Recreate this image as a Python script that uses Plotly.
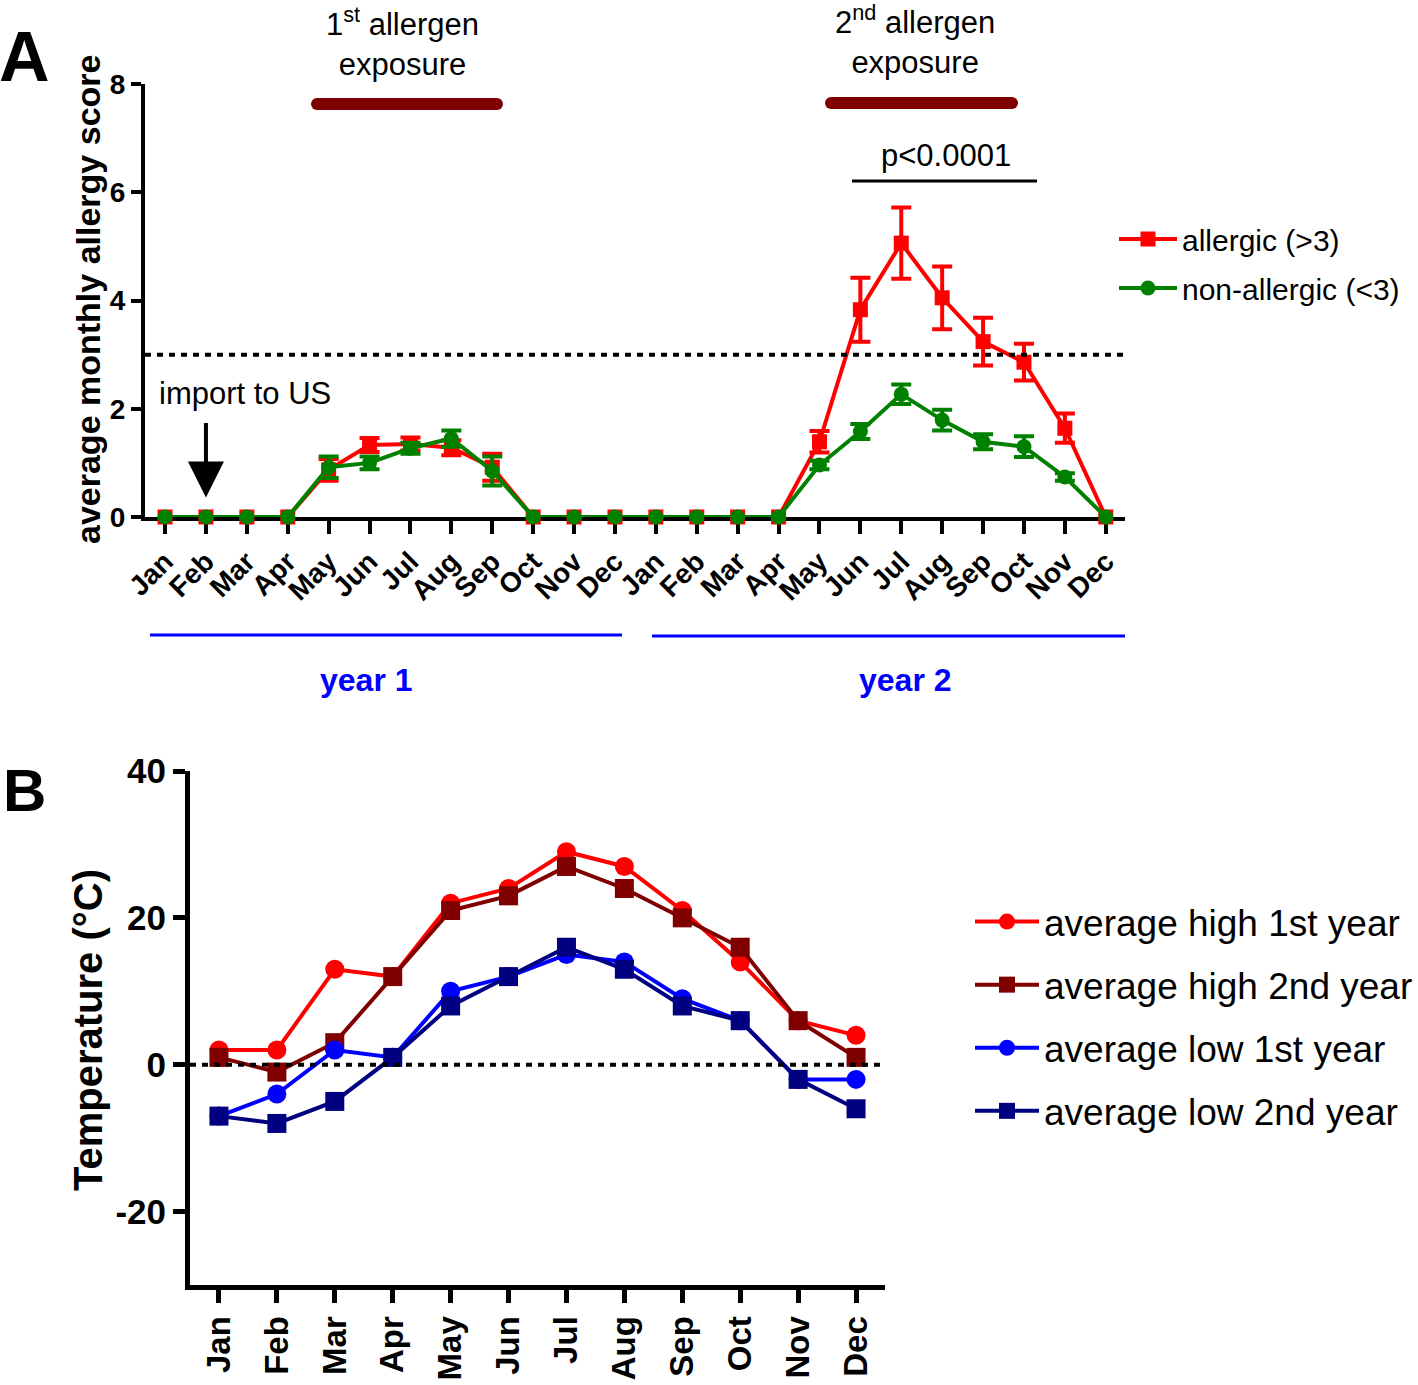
import numpy as np
import plotly.graph_objects as go

W, H = 1418, 1385
FONT = "Liberation Sans, Arial, sans-serif"

# ---------------- data ----------------
months = ["Jan", "Feb", "Mar", "Apr", "May", "Jun", "Jul", "Aug", "Sep", "Oct", "Nov", "Dec"]
months_2y = months + months

allergic = [0, 0, 0, 0, 0.87, 1.33, 1.35, 1.28, 0.92, 0, 0, 0,
            0, 0, 0, 0, 1.39, 3.83, 5.06, 4.05, 3.24, 2.86, 1.64, 0]
allergic_err = [None, None, None, None, 0.2, 0.13, 0.12, 0.14, 0.25, None, None, None,
                None, None, None, None, 0.2, 0.59, 0.66, 0.58, 0.44, 0.34, 0.27, None]
non_allergic = [0, 0, 0, 0, 0.92, 1.0, 1.27, 1.45, 0.85, 0, 0, 0,
                0, 0, 0, 0, 0.96, 1.58, 2.27, 1.79, 1.39, 1.30, 0.74, 0]
non_allergic_err = [None, None, None, None, 0.2, 0.12, 0.1, 0.15, 0.27, None, None, None,
                    None, None, None, None, 0.08, 0.14, 0.18, 0.19, 0.14, 0.19, 0.07, None]

score_ticks = [0, 2, 4, 6, 8]

high_1st = [2, 2, 13, 12, 22, 24, 29, 27, 21, 14, 6, 4]
high_2nd = [1, -1, 3, 12, 21, 23, 27, 24, 20, 16, 6, 1]
low_1st = [-7, -4, 2, 1, 10, 12, 15, 14, 9, 6, -2, -2]
low_2nd = [-7, -8, -5, 1, 8, 12, 16, 13, 8, 6, -2, -6]

temp_ticks = [-20, 0, 20, 40]
temp_ticktext = ["-20", "0", "20", "40"]

threshold = 3

# ---------------- helpers ----------------
def px(x):
    return x / W


def py(y):
    return 1 - y / H


xa = list(range(len(months_2y)))
xb = list(range(len(months)))

fig = go.Figure()

# Panel A
fig.add_trace(go.Scatter(
    x=xa, y=allergic, name="allergic (>3)", mode="lines+markers",
    line=dict(color="#FF0000", width=4),
    marker=dict(symbol="square", size=15, color="#FF0000"),
    error_y=dict(type="data", array=np.array(allergic_err, dtype=float), color="#FF0000",
                 thickness=4, width=10),
    cliponaxis=False, xaxis="x", yaxis="y", legend="legend", legendgroup="a1"))
fig.add_trace(go.Scatter(
    x=xa, y=non_allergic, name="non-allergic (<3)", mode="lines+markers",
    line=dict(color="#008000", width=4),
    marker=dict(symbol="circle", size=15, color="#008000"),
    error_y=dict(type="data", array=np.array(non_allergic_err, dtype=float), color="#008000",
                 thickness=4, width=10),
    cliponaxis=False, xaxis="x", yaxis="y", legend="legend", legendgroup="a2"))

# Panel B
for name, vals, col, sym, grp in [
    ("average high 1st year", high_1st, "#FF0000", "circle", "b1"),
    ("average high 2nd year", high_2nd, "#800000", "square", "b2"),
    ("average low 1st year", low_1st, "#0000FF", "circle", "b3"),
    ("average low 2nd year", low_2nd, "#000080", "square", "b4"),
]:
    fig.add_trace(go.Scatter(
        x=xb, y=vals, name=name, mode="lines+markers",
        line=dict(color=col, width=4),
        marker=dict(symbol=sym, size=19, color=col),
        cliponaxis=False, xaxis="x2", yaxis="y2", legend="legend2", legendgroup=grp))

axis_common = dict(showgrid=False, zeroline=False, showline=True, linecolor="black",
                   ticks="outside", tickcolor="black", layer="below traces")

DOTS = "6px,6px"
BAR = "#800000"


def rounded_bar(x0, x1, y0, y1):
    r = (y1 - y0) / 2
    return [
        dict(type="rect", xref="paper", yref="paper", x0=px(x0 + r), x1=px(x1 - r),
             y0=py(y1), y1=py(y0), fillcolor=BAR, line=dict(width=0)),
        dict(type="circle", xref="paper", yref="paper", x0=px(x0), x1=px(x0 + 2 * r),
             y0=py(y1), y1=py(y0), fillcolor=BAR, line=dict(width=0)),
        dict(type="circle", xref="paper", yref="paper", x0=px(x1 - 2 * r), x1=px(x1),
             y0=py(y1), y1=py(y0), fillcolor=BAR, line=dict(width=0)),
    ]


shapes = [
    # threshold dotted line (A)
    dict(type="line", xref="x domain", yref="y", x0=0, x1=1, y0=threshold, y1=threshold,
         line=dict(color="black", width=4, dash=DOTS)),
    # zero dotted line (B)
    dict(type="line", xref="x2 domain", yref="y2", x0=0, x1=1, y0=0, y1=0,
         line=dict(color="black", width=4, dash=DOTS)),
    # p-value line
    dict(type="line", xref="paper", yref="paper", x0=px(852), x1=px(1037), y0=py(181), y1=py(181),
         line=dict(color="black", width=3)),
    # year lines
    dict(type="line", xref="paper", yref="paper", x0=px(150), x1=px(622), y0=py(635), y1=py(635),
         line=dict(color="#0000FF", width=3)),
    dict(type="line", xref="paper", yref="paper", x0=px(652), x1=px(1125), y0=py(636), y1=py(636),
         line=dict(color="#0000FF", width=3)),
]
shapes += rounded_bar(311, 503, 98, 110)
shapes += rounded_bar(825, 1018, 97, 109)


def ann(text, x, y, size, bold=False, color="black", xanchor="center", angle=0):
    return dict(text=text, x=px(x), y=py(y), xref="paper", yref="paper", showarrow=False,
                xanchor=xanchor, yanchor="middle", textangle=angle,
                font=dict(family=FONT, size=size, color=color, weight="bold" if bold else "normal"))


annotations = [
    ann("A", 24, 57, 70, bold=True),
    ann("B", 24, 790, 60, bold=True),
    ann("1<sup>st</sup> allergen<br>exposure", 402, 42, 31),
    ann("2<sup>nd</sup> allergen<br>exposure", 915, 40, 31),
    ann("p&lt;0.0001", 946, 155, 31),
    ann("import to US", 157, 393, 31, xanchor="left"),
    ann("year 1", 366, 680, 32, bold=True, color="#0000FF"),
    ann("year 2", 905, 680, 32, bold=True, color="#0000FF"),
    ann("average monthly allergy score", 88, 300, 34, bold=True, angle=-90),
    ann("Temperature (°C)", 88, 1030, 40, bold=True, angle=-90),
    dict(text="", x=1, y=0.36, xref="x", yref="y", showarrow=True, ax=0, ay=-76,
         arrowhead=2, arrowwidth=4, arrowsize=1.8, arrowcolor="black"),
]

fig.update_layout(
    width=W, height=H, margin=dict(l=0, r=0, t=0, b=0, autoexpand=False),
    paper_bgcolor="white", plot_bgcolor="white",
    font=dict(family=FONT, color="black"),
    showlegend=True,
    xaxis=dict(domain=[px(145), px(1125)], range=[-0.49, 23.47], anchor="y",
               tickmode="array", tickvals=xa, ticktext=months_2y, tickangle=-45,
               ticklen=13, tickwidth=4, linewidth=4,
               tickfont=dict(family=FONT, size=28, weight="bold"), **axis_common),
    yaxis=dict(domain=[py(517), py(84)], range=[0, 8], anchor="x",
               tickmode="array", tickvals=score_ticks,
               ticklen=10, tickwidth=4, linewidth=4,
               tickfont=dict(family=FONT, size=28, weight="bold"), **axis_common),
    xaxis2=dict(domain=[px(190), px(885)], range=[-0.5, 11.5], anchor="y2",
                tickmode="array", tickvals=xb, ticktext=months, tickangle=-90,
                ticklen=13, tickwidth=5, linewidth=5,
                tickfont=dict(family=FONT, size=33, weight="bold"), **axis_common),
    yaxis2=dict(domain=[py(1285), py(771)], range=[-30, 40], anchor="x2",
                tickmode="array", tickvals=temp_ticks, ticktext=temp_ticktext,
                ticklen=12, tickwidth=5, linewidth=5,
                tickfont=dict(family=FONT, size=35, weight="bold"), **axis_common),
    legend=dict(x=px(1114), y=py(213), xanchor="left", yanchor="top",
                font=dict(family=FONT, size=30), bgcolor="rgba(0,0,0,0)",
                tracegroupgap=7, itemwidth=58),
    legend2=dict(x=px(970), y=py(891), xanchor="left", yanchor="top",
                 font=dict(family=FONT, size=37), bgcolor="rgba(0,0,0,0)",
                 tracegroupgap=12, itemwidth=64),
    shapes=shapes,
    annotations=annotations,
)

fig.write_html("out.html", config={"displayModeBar": False},
               post_script="document.body.style.margin='0';document.body.style.overflow='hidden';")
